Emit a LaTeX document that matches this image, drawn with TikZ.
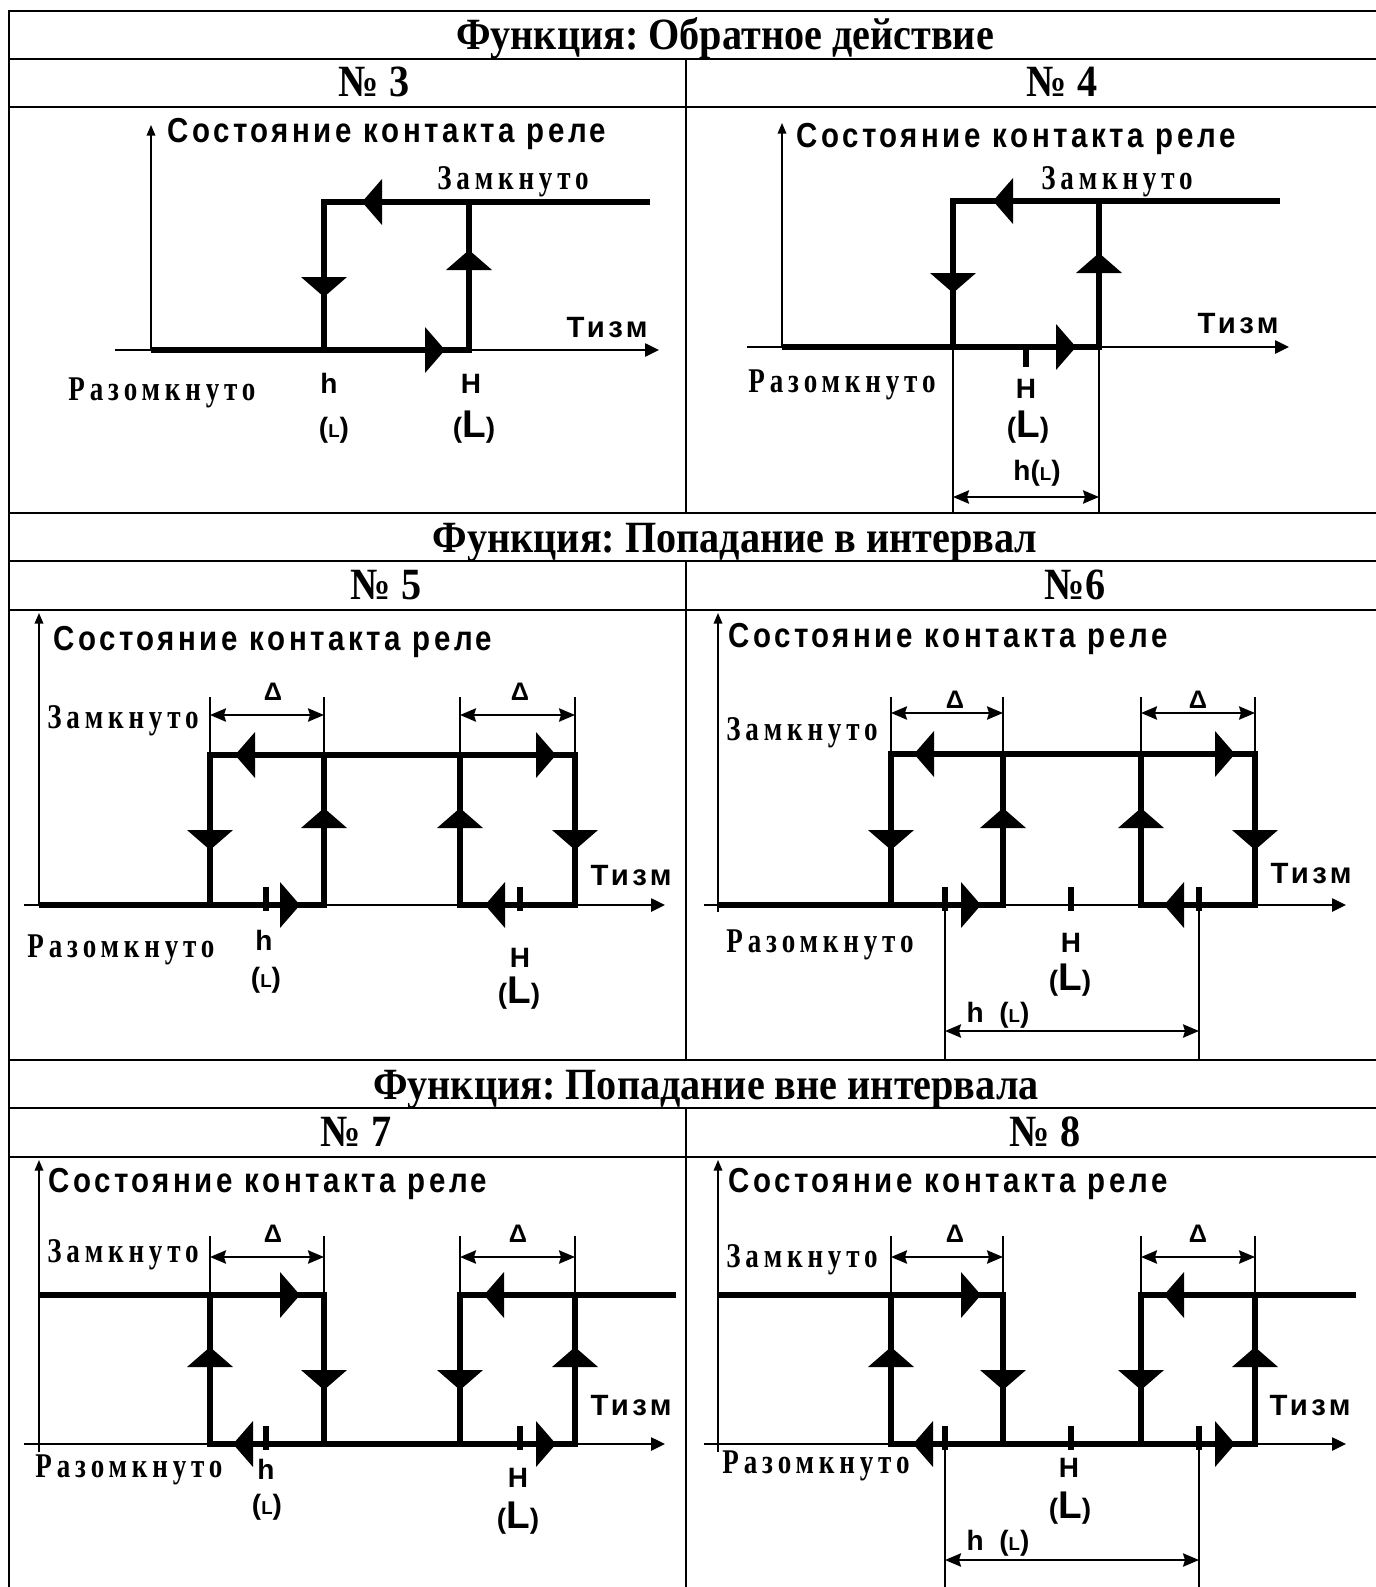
\documentclass[tikz,border=0pt]{standalone}
\usepackage{graphicx}
\usepackage{fontspec}
\setmainfont{Liberation Serif}
\setsansfont{Liberation Sans}
\newfontfamily\serifsp[LetterSpace=18]{Liberation Serif}
\newfontfamily\sanssp[LetterSpace=12]{Liberation Sans}
\usetikzlibrary{arrows.meta}
\frenchspacing

% filled heads in the middle of the thick lines, tip at (#1,#2)
\newcommand{\tipR}[2]{\fill (#1,#2) -- ++(-20,-23) -- ++(0,46) -- cycle;}
\newcommand{\tipL}[2]{\fill (#1,#2) -- ++(20,-23) -- ++(0,46) -- cycle;}
\newcommand{\tipU}[2]{\fill (#1,#2) -- ++(-23,20) -- ++(46,0) -- cycle;}
\newcommand{\tipD}[2]{\fill (#1,#2) -- ++(-23,-20) -- ++(46,0) -- cycle;}
% narrow letters
\newcommand{\cnd}[2]{\scalebox{#1}[1]{#2}}
\newcommand{\smallL}{({\fontsize{14}{16}\selectfont L})}
\newcommand{\bigL}{({\fontsize{29}{30}\selectfont L})}

\begin{document}
\begin{tikzpicture}[x=0.75pt,y=-0.75pt,
  frame/.style={line width=2.2pt},
  curve/.style={line width=4.5pt},
  axis/.style={line width=1.1pt,-{Triangle[length=10.5pt,width=10pt]}},
  yaxis/.style={line width=1.1pt,-{Triangle[length=8pt,width=6.5pt]}},
  ext/.style={line width=0.8pt},
  dim/.style={line width=1.4pt,{Stealth[length=12pt,width=10pt,inset=1.5pt]}-{Stealth[length=12pt,width=10pt,inset=1.5pt]}},
  tickmark/.style={line width=4pt},
  ttl/.style={font=\bfseries\fontsize{33.5}{36}\selectfont,anchor=base,inner sep=0},
  lab/.style={font=\sanssp\bfseries\fontsize{26}{30}\selectfont,anchor=base west,inner sep=0},
  state/.style={font=\serifsp\bfseries\fontsize{26}{29}\selectfont,anchor=base,inner sep=0},
  axl/.style={font=\sanssp\bfseries\fontsize{22}{26}\selectfont,anchor=base,inner sep=0},
  val/.style={font=\sffamily\bfseries\fontsize{21}{25}\selectfont,anchor=base,inner sep=0},
  dlt/.style={font=\sffamily\bfseries\fontsize{19}{21}\selectfont,anchor=base,inner sep=0}]
\useasboundingbox (0,0) rectangle (1376,1587);
\clip (0,0) rectangle (1376,1587);

% table
\draw[frame] (9,1600) -- (9,11) -- (1400,11);
\draw[frame] (9,59) -- (1400,59);
\draw[frame] (9,107) -- (1400,107);
\draw[frame] (9,513) -- (1400,513);
\draw[frame] (9,561) -- (1400,561);
\draw[frame] (9,610) -- (1400,610);
\draw[frame] (9,1060) -- (1400,1060);
\draw[frame] (9,1108) -- (1400,1108);
\draw[frame] (9,1157) -- (1400,1157);
\draw[frame] (686,59) -- (686,513);
\draw[frame] (686,561) -- (686,1060);
\draw[frame] (686,1108) -- (686,1600);

\node[ttl] (f1) at (725,50) {\cnd{0.9}{Функция: Обратное действие}};
\node[ttl] (n3) at (374,97) {\cnd{0.9}{№ 3}};
\node[ttl] (n4) at (1062,97) {\cnd{0.9}{№ 4}};
\node[ttl] (f2) at (735,552) {\cnd{0.9}{Функция: Попадание в интервал}};
\node[ttl] (n5) at (386,599) {\cnd{0.9}{№ 5}};
\node[ttl] (n6) at (1075,599) {\cnd{0.9}{№6}};
\node[ttl] (f3) at (706,1099) {\cnd{0.9}{Функция: Попадание вне интервала}};
\node[ttl] (n7) at (356,1146) {\cnd{0.9}{№ 7}};
\node[ttl] (n8) at (1045,1146) {\cnd{0.9}{№ 8}};

% No 3
\draw[axis] (115,350) -- (659,350);
\draw[yaxis] (151,350) -- (151,125);
\draw[curve] (151,350) -- (469,350) -- (469,202);
\draw[curve] (650,202) -- (324,202) -- (324,350);
\tipL{362}{202} \tipD{324}{297} \tipU{469}{250} \tipR{445}{350}
\node[lab] (s3) at (167,143) {\cnd{0.85}{Состояние контакта реле}};
\node[state] (z3) at (513,190) {\cnd{0.78}{Замкнуто}};
\node[axl] (t3) at (607,337) {Тизм};
\node[state] (r3) at (162,400) {\cnd{0.78}{Разомкнуто}};
\node[val] (h3) at (329,393) {h};
\node[val] (hl3) at (334,437) {\smallL};
\node[val] (H3) at (471,393) {H};
\node[val] (Hl3) at (474,437) {\bigL};

% No 4
\draw[axis] (747,347) -- (1289,347);
\draw[yaxis] (782,347) -- (782,123);
\draw[curve] (782,347) -- (1099,347) -- (1099,201);
\draw[curve] (1280,201) -- (953,201) -- (953,347);
\draw[ext] (953,347) -- (953,513);
\draw[ext] (1099,347) -- (1099,513);
\draw[tickmark] (1026,347) -- (1026,367);
\draw[dim] (953,497) -- (1099,497);
\tipL{993}{201} \tipD{953}{293} \tipU{1099}{253} \tipR{1076}{347}
\node[lab] (s4) at (796,148) {\cnd{0.85}{Состояние контакта реле}};
\node[state] (z4) at (1117,190) {\cnd{0.78}{Замкнуто}};
\node[axl] (t4) at (1238,333) {Тизм};
\node[state] (r4) at (842,392) {\cnd{0.78}{Разомкнуто}};
\node[val] (H4) at (1026,398) {H};
\node[val] (Hl4) at (1028,437) {\bigL};
\node[val] (hl4) at (1037,480) {h\smallL};

% No 5
\draw[axis] (24,905) -- (665,905);
\draw[yaxis] (39,905) -- (39,613);
\draw[curve] (39,905) -- (324,905) -- (324,755);
\draw[curve] (210,905) -- (210,755) -- (575,755) -- (575,905) -- (460,905) -- (460,755);
\draw[ext] (210,755) -- (210,697);
\draw[ext] (324,755) -- (324,697);
\draw[ext] (460,755) -- (460,697);
\draw[ext] (575,755) -- (575,697);
\draw[dim] (210,715) -- (324,715);
\draw[dim] (460,715) -- (575,715);
\draw[tickmark] (266,887) -- (266,911);
\draw[tickmark] (520,887) -- (520,911);
\tipL{235}{755} \tipR{556}{755} \tipD{210}{850} \tipU{324}{808}
\tipU{460}{808} \tipD{575}{850} \tipR{300}{905} \tipL{485}{905}
\node[lab] (s5) at (53,650) {\cnd{0.85}{Состояние контакта реле}};
\node[state] (z5) at (123,728) {\cnd{0.78}{Замкнуто}};
\node[dlt] (d5a) at (273,700) {Δ};
\node[dlt] (d5b) at (520,700) {Δ};
\node[axl] (t5) at (631,885) {Тизм};
\node[state] (r5) at (121,957) {\cnd{0.78}{Разомкнуто}};
\node[val] (h5) at (264,950) {h};
\node[val] (hl5) at (266,987) {\smallL};
\node[val] (H5) at (520,967) {H};
\node[val] (Hl5) at (519,1003) {\bigL};

% No 6
\draw[axis] (704,905) -- (1346,905);
\draw[yaxis] (718,912) -- (718,613);
\draw[curve] (718,905) -- (1003,905) -- (1003,754);
\draw[curve] (891,905) -- (891,754) -- (1255,754) -- (1255,905) -- (1141,905) -- (1141,754);
\draw[ext] (891,754) -- (891,697);
\draw[ext] (1003,754) -- (1003,697);
\draw[ext] (1141,754) -- (1141,697);
\draw[ext] (1255,754) -- (1255,697);
\draw[ext] (945,905) -- (945,1060);
\draw[ext] (1199,905) -- (1199,1060);
\draw[dim] (891,713) -- (1003,713);
\draw[dim] (1141,713) -- (1255,713);
\draw[dim] (945,1031) -- (1199,1031);
\draw[tickmark] (945,887) -- (945,911);
\draw[tickmark] (1071,887) -- (1071,911);
\draw[tickmark] (1199,887) -- (1199,911);
\tipL{914}{754} \tipR{1235}{754} \tipD{891}{850} \tipU{1003}{808}
\tipU{1141}{808} \tipD{1255}{850} \tipR{981}{905} \tipL{1164}{905}
\node[lab] (s6) at (728,647) {\cnd{0.85}{Состояние контакта реле}};
\node[state] (z6) at (802,740) {\cnd{0.78}{Замкнуто}};
\node[dlt] (d6a) at (955,708) {Δ};
\node[dlt] (d6b) at (1198,708) {Δ};
\node[axl] (t6) at (1311,883) {Тизм};
\node[state] (r6) at (820,952) {\cnd{0.78}{Разомкнуто}};
\node[val] (H6) at (1071,952) {H};
\node[val] (Hl6) at (1070,990) {\bigL};
\node[val] (hl6) at (998,1022) {h\ \ \smallL};

% No 7
\draw[axis] (24,1444) -- (665,1444);
\draw[yaxis] (39,1452) -- (39,1160);
\draw[curve] (39,1295) -- (324,1295) -- (324,1444);
\draw[curve] (210,1295) -- (210,1444) -- (575,1444) -- (575,1295);
\draw[curve] (676,1295) -- (460,1295) -- (460,1444);
\draw[ext] (210,1295) -- (210,1236);
\draw[ext] (324,1295) -- (324,1236);
\draw[ext] (460,1295) -- (460,1236);
\draw[ext] (575,1295) -- (575,1236);
\draw[dim] (210,1257) -- (324,1257);
\draw[dim] (460,1257) -- (575,1257);
\draw[tickmark] (266,1426) -- (266,1450);
\draw[tickmark] (520,1426) -- (520,1450);
\tipR{300}{1295} \tipL{484}{1295} \tipU{210}{1347} \tipD{324}{1390}
\tipD{460}{1390} \tipU{575}{1347} \tipL{233}{1444} \tipR{556}{1444}
\node[lab] (s7) at (48,1192) {\cnd{0.85}{Состояние контакта реле}};
\node[state] (z7) at (123,1262) {\cnd{0.78}{Замкнуто}};
\node[dlt] (d7a) at (273,1242) {Δ};
\node[dlt] (d7b) at (518,1242) {Δ};
\node[axl] (t7) at (631,1415) {Тизм};
\node[state] (r7) at (129,1477) {\cnd{0.78}{Разомкнуто}};
\node[val] (h7) at (266,1479) {h};
\node[val] (hl7) at (267,1514) {\smallL};
\node[val] (H7) at (518,1487) {H};
\node[val] (Hl7) at (518,1528) {\bigL};

% No 8
\draw[axis] (704,1444) -- (1346,1444);
\draw[yaxis] (718,1452) -- (718,1160);
\draw[curve] (718,1295) -- (1003,1295) -- (1003,1444);
\draw[curve] (891,1295) -- (891,1444) -- (1255,1444) -- (1255,1295);
\draw[curve] (1356,1295) -- (1141,1295) -- (1141,1444);
\draw[ext] (891,1295) -- (891,1236);
\draw[ext] (1003,1295) -- (1003,1236);
\draw[ext] (1141,1295) -- (1141,1236);
\draw[ext] (1255,1295) -- (1255,1236);
\draw[ext] (945,1444) -- (945,1600);
\draw[ext] (1199,1444) -- (1199,1600);
\draw[dim] (891,1257) -- (1003,1257);
\draw[dim] (1141,1257) -- (1255,1257);
\draw[dim] (945,1560) -- (1199,1560);
\draw[tickmark] (945,1426) -- (945,1450);
\draw[tickmark] (1071,1426) -- (1071,1450);
\draw[tickmark] (1199,1426) -- (1199,1450);
\tipR{981}{1295} \tipL{1164}{1295} \tipU{891}{1347} \tipD{1003}{1390}
\tipD{1141}{1390} \tipU{1255}{1347} \tipL{913}{1444} \tipR{1235}{1444}
\node[lab] (s8) at (728,1192) {\cnd{0.85}{Состояние контакта реле}};
\node[state] (z8) at (802,1267) {\cnd{0.78}{Замкнуто}};
\node[dlt] (d8a) at (955,1242) {Δ};
\node[dlt] (d8b) at (1198,1242) {Δ};
\node[axl] (t8) at (1310,1415) {Тизм};
\node[state] (r8) at (816,1473) {\cnd{0.78}{Разомкнуто}};
\node[val] (H8) at (1069,1477) {H};
\node[val] (Hl8) at (1070,1518) {\bigL};
\node[val] (hl8) at (998,1550) {h\ \ \smallL};
\end{tikzpicture}
\end{document}
